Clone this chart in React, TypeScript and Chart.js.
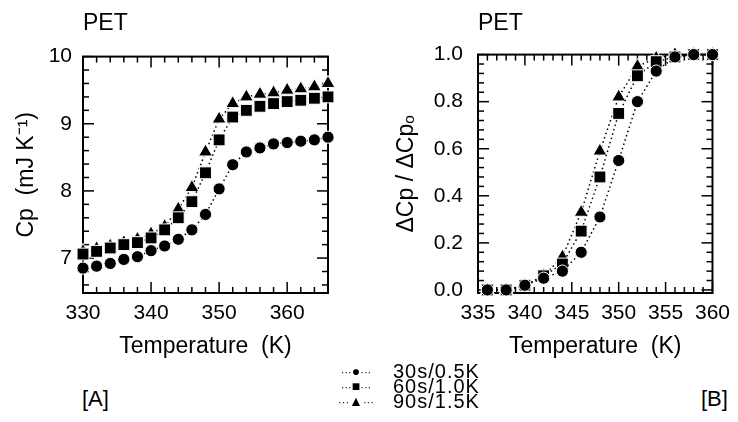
import React, { useEffect, useRef } from 'react';
import { Chart, registerables } from 'chart.js';
Chart.register(...registerables);

// ---------- data ----------
const seriesLabels = ['30s/0.5K', '60s/1.0K', '90s/1.5K'];

// Panel A: Cp vs temperature
const tempA = [330, 332, 334, 336, 338, 340, 342, 344, 346, 348, 350, 352, 354, 356, 358, 360, 362, 364, 366];
const cpA30 = [6.85, 6.88, 6.92, 6.98, 7.02, 7.11, 7.18, 7.28, 7.42, 7.65, 8.03, 8.39, 8.58, 8.64, 8.7, 8.72, 8.74, 8.76, 8.8];
const cpA60 = [7.06, 7.1, 7.15, 7.2, 7.23, 7.3, 7.42, 7.6, 7.84, 8.27, 8.76, 9.1, 9.2, 9.26, 9.3, 9.33, 9.35, 9.38, 9.4];
const cpA90 = [7.1, 7.14, 7.18, 7.23, 7.28, 7.36, 7.47, 7.73, 8.05, 8.58, 9.07, 9.3, 9.4, 9.44, 9.46, 9.5, 9.52, 9.55, 9.6];

// Panel B: normalised ΔCp / ΔCp0
const tempB = [336, 338, 340, 342, 344, 346, 348, 350, 352, 354, 356, 358, 360];
const fracB30 = [0.0, 0.0, 0.02, 0.05, 0.08, 0.16, 0.31, 0.55, 0.8, 0.93, 0.99, 1.0, 1.0];
const fracB60 = [0.0, 0.0, 0.02, 0.06, 0.11, 0.25, 0.48, 0.75, 0.91, 0.97, 0.99, 1.0, 1.0];
const fracB90 = [0.0, 0.0, 0.02, 0.06, 0.14, 0.33, 0.59, 0.82, 0.95, 0.985, 1.0, 1.0, 1.0];

// tick labels
const xTicksA = [330, 340, 350, 360];
const yTicksA = [7, 8, 9, 10];
const xTicksB = [335, 340, 345, 350, 355, 360];
const yTicksB = [0, 0.2, 0.4, 0.6, 0.8, 1.0];

const FONT = "'Liberation Sans', Arial, Helvetica, sans-serif";

// ---------- frame + inward ticks plugin ----------
const framePlugin = {
  id: 'frame',
  beforeDatasetsDraw(chart: any, _args: any, opts: any) {
    const { ctx, chartArea: a, scales } = chart;
    const x = scales.x, y = scales.y;
    ctx.save();
    ctx.strokeStyle = '#000';
    ctx.lineCap = 'butt';
    ctx.lineWidth = 2;
    ctx.strokeRect(a.left, a.top, a.right - a.left, a.bottom - a.top);
    ctx.lineWidth = 1.5;
    const isMajor = (v: number, step: number) => Math.abs(v / step - Math.round(v / step)) < 1e-6;
    const line = (x1: number, y1: number, x2: number, y2: number) => {
      ctx.beginPath(); ctx.moveTo(x1, y1); ctx.lineTo(x2, y2); ctx.stroke();
    };
    const nx = Math.round((opts.xEnd - opts.xStart) / opts.xMinor);
    for (let i = 0; i <= nx; i++) {
      const v = opts.xStart + i * opts.xMinor;
      const len = isMajor(v, opts.xMajor) ? opts.majorLen : opts.minorLen;
      const px = x.getPixelForValue(v);
      line(px, a.bottom, px, a.bottom - len);
      line(px, a.top, px, a.top + len);
    }
    const ny = Math.round((opts.yEnd - opts.yStart) / opts.yMinor);
    for (let i = 0; i <= ny; i++) {
      const v = opts.yStart + i * opts.yMinor;
      const len = isMajor(v, opts.yMajor) ? opts.majorLen : opts.minorLen;
      const py = y.getPixelForValue(v);
      line(a.left, py, a.left + len, py);
      line(a.right, py, a.right - len, py);
    }
    ctx.restore();
  },
};

const styles = ['circle', 'rect', 'triangle'];
const radii = [6.1, 8.4, 8];

function makeDatasets(xs: number[], ys: number[][]) {
  return ys.map((vals, i) => ({
    label: seriesLabels[i],
    data: xs.map((xv, j) => ({ x: xv, y: vals[j] })),
    showLine: true,
    borderColor: '#000',
    borderWidth: 1.5,
    borderDash: [1.5, 3],
    pointStyle: styles[i],
    pointRadius: radii[i],
    pointBackgroundColor: '#000',
    pointBorderColor: '#fff',
    pointBorderWidth: 1,
    clip: false,
    tension: 0,
  }));
}

function panelConfig(p: any) {
  return {
    type: 'scatter',
    data: { datasets: makeDatasets(p.xs, p.ys) },
    plugins: [framePlugin],
    options: {
      animation: false,
      responsive: false,
      maintainAspectRatio: false,
      layout: { padding: { left: 0, right: p.padRight, top: 0, bottom: 0 } },
      plugins: {
        legend: { display: false },
        tooltip: { enabled: false },
        title: {
          display: true,
          text: 'PET',
          align: 'start',
          fullSize: false,
          color: '#000',
          font: { family: FONT, size: 23, weight: 'normal' },
          padding: { top: 10, bottom: p.titleBottom },
        },
        frame: p.frame,
      },
      scales: {
        x: {
          type: 'linear',
          min: p.xMin,
          max: p.xMax,
          grid: { display: false, drawTicks: false },
          border: { display: false },
          afterBuildTicks: (s: any) => { s.ticks = p.xTicks.map((v: number) => ({ value: v })); },
          afterFit: (s: any) => { s.height = 70; },
          ticks: {
            color: '#000', font: { family: FONT, size: 21 }, padding: 8,
            maxRotation: 0, autoSkip: false,
            callback: (v: number) => String(v),
          },
          title: {
            display: true, text: 'Temperature  (K)', color: '#000',
            font: { family: FONT, size: 23 }, padding: { top: 0, bottom: 3 },
          },
        },
        y: {
          type: 'linear',
          min: p.yMin,
          max: p.yMax,
          grid: { display: false, drawTicks: false },
          border: { display: false },
          afterBuildTicks: (s: any) => { s.ticks = p.yTicks.map((v: number) => ({ value: v })); },
          afterFit: (s: any) => { s.width = p.yWidth; },
          ticks: {
            color: '#000', font: { family: FONT, size: 21 }, padding: p.yTickPad,
            autoSkip: false,
            callback: p.yFmt,
          },
          title: {
            display: true, text: p.yTitle, color: '#000',
            font: { family: FONT, size: 23 }, padding: { top: p.yTitlePad, bottom: 0 },
          },
        },
      },
    },
  };
}

const panelA = {
  xs: tempA, ys: [cpA30, cpA60, cpA90],
  xMin: 330, xMax: 366, yMin: 6.48, yMax: 10,
  xTicks: xTicksA, yTicks: yTicksA,
  yFmt: (v: number) => String(v),
  yTitle: 'Cp  (mJ K\u207B\u00B9)',
  yWidth: 83, yTickPad: 11, yTitlePad: 13,
  padRight: 41, titleBottom: 19,
  frame: { xStart: 330, xEnd: 366, xMinor: 2, xMajor: 10, yStart: 6.6, yEnd: 10, yMinor: 0.2, yMajor: 1, majorLen: 11, minorLen: 6 },
};

const panelB = {
  xs: tempB, ys: [fracB30, fracB60, fracB90],
  xMin: 335, xMax: 360, yMin: -0.013, yMax: 1.0,
  xTicks: xTicksB, yTicks: yTicksB,
  yFmt: (v: number) => v.toFixed(1),
  yTitle: '\u0394Cp / \u0394Cp\u2092',
  yWidth: 109, yTickPad: 15, yTitlePad: 24,
  padRight: 19, titleBottom: 17,
  frame: { xStart: 335, xEnd: 360, xMinor: 1, xMajor: 5, yStart: 0, yEnd: 1.0, yMinor: 0.04, yMajor: 0.2, majorLen: 11, minorLen: 6 },
};

function Panel({ cfg, left }: { cfg: any; left: number }) {
  const ref = useRef<HTMLCanvasElement>(null);
  useEffect(() => {
    const chart = new Chart(ref.current as HTMLCanvasElement, panelConfig(cfg) as any);
    return () => chart.destroy();
  }, []);
  return (
    <canvas
      ref={ref}
      width={369}
      height={363}
      style={{ position: 'absolute', left, top: 0, width: 369, height: 363 }}
    />
  );
}

const legendMarks = ['\u25CF', '\u25A0', '\u25B2'];

export default function App() {
  return (
    <div style={{ position: 'absolute', left: 0, top: 0, width: 738, height: 422, background: '#fff', overflow: 'hidden', fontFamily: FONT, color: '#000' }}>
      <Panel cfg={panelA} left={0} />
      <Panel cfg={panelB} left={369} />
      <div style={{ position: 'absolute', left: 333, top: 364 }}>
        {seriesLabels.map((lab, i) => (
          <div key={lab} style={{ display: 'flex', alignItems: 'center', height: 15 }}>
            <span style={{ width: 46, fontSize: 11, lineHeight: '15px', whiteSpace: 'nowrap', textAlign: 'center' }}>
              {'\u00B7\u00B7\u00B7'}<span style={{ fontSize: 14 }}>{legendMarks[i]}</span>{'\u00B7\u00B7\u00B7'}
            </span>
            <span style={{ marginLeft: 14, fontSize: 20, lineHeight: '15px', letterSpacing: 1, whiteSpace: 'nowrap' }}>{lab}</span>
          </div>
        ))}
      </div>
      <div style={{ position: 'absolute', left: 82, top: 388, fontSize: 22, lineHeight: '22px' }}>[A]</div>
      <div style={{ position: 'absolute', left: 701, top: 388, fontSize: 22, lineHeight: '22px' }}>[B]</div>
    </div>
  );
}
